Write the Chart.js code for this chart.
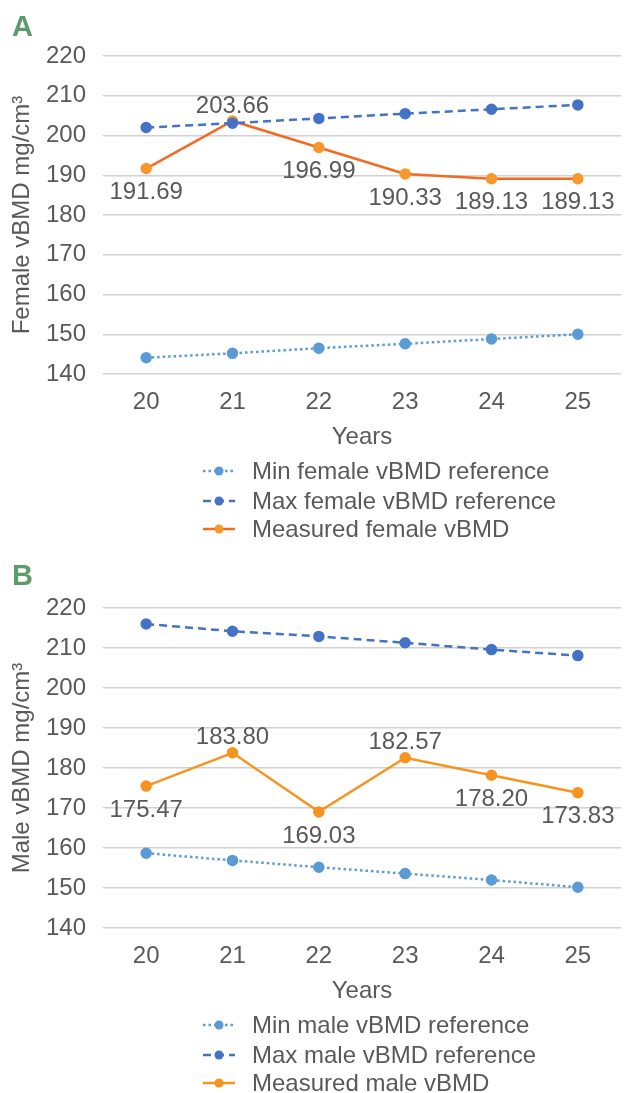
<!DOCTYPE html>
<html>
<head>
<meta charset="utf-8">
<script src="https://cdn.jsdelivr.net/npm/chart.js@4"></script>
<style>
  html, body { margin: 0; padding: 0; background: #fff; }
  #wrapA { position: absolute; left: 0; top: 0; width: 628px; height: 550px; }
  #wrapB { position: absolute; left: 0; top: 550px; width: 628px; height: 543px; }
</style>
</head>
<body>
<div id="wrapA"><canvas id="chartA"></canvas></div>
<div id="wrapB"><canvas id="chartB"></canvas></div>
<script>
// data
const years = ["20", "21", "22", "23", "24", "25"];
const yTicks = [140, 150, 160, 170, 180, 190, 200, 210, 220];

const femaleMin = [144.1, 145.2, 146.5, 147.6, 148.8, 150.0];
const femaleMax = [202.0, 203.1, 204.3, 205.5, 206.6, 207.7];
const femaleMeasured = [191.69, 203.66, 196.99, 190.33, 189.13, 189.13];
const femaleLabelPos = ["below", "above", "below", "below", "below", "below"];

const maleMin = [158.7, 156.9, 155.2, 153.6, 152.0, 150.2];
const maleMax = [216.0, 214.2, 212.9, 211.3, 209.6, 208.1];
const maleMeasured = [175.47, 183.80, 169.03, 182.57, 178.20, 173.83];
const maleLabelPos = ["below", "above", "below", "above", "below", "below"];

const FONT = "'Liberation Sans', Arial, sans-serif";
const FSIZE = 24;
const TEXT = "#595959";
Chart.defaults.font.family = FONT;
Chart.defaults.font.size = FSIZE;
Chart.defaults.color = TEXT;

// value labels on the measured series
const valueLabels = {
  id: "valueLabels",
  afterDatasetsDraw(chart, args, opts) {
    const ctx = chart.ctx;
    const meta = chart.getDatasetMeta(opts.index);
    const vals = chart.data.datasets[opts.index].data;
    ctx.save();
    ctx.font = FSIZE + "px " + FONT;
    ctx.fillStyle = TEXT;
    ctx.textAlign = "center";
    ctx.textBaseline = "middle";
    meta.data.forEach((pt, i) => {
      const dy = opts.pos[i] === "above" ? -15 : 24;
      ctx.fillText(vals[i].toFixed(2), pt.x, pt.y + dy);
    });
    ctx.restore();
  }
};

// stacked legend under the axis + panel letter
const stackLegend = {
  id: "stackLegend",
  afterDraw(chart, args, opts) {
    const ctx = chart.ctx;
    const base = chart.chartArea.bottom;
    const rows = [97, 127, 155];
    ctx.save();
    chart.data.datasets.forEach((ds, i) => {
      const y = base + rows[i];
      ctx.strokeStyle = ds.borderColor;
      ctx.lineWidth = ds.borderWidth;
      ctx.setLineDash(ds.borderDash || []);
      ctx.beginPath();
      ctx.moveTo(203, y);
      ctx.lineTo(235, y);
      ctx.stroke();
      ctx.setLineDash([]);
      ctx.fillStyle = ds.pointBackgroundColor;
      ctx.beginPath();
      ctx.arc(219, y, 4.5, 0, Math.PI * 2);
      ctx.fill();
      ctx.fillStyle = TEXT;
      ctx.font = FSIZE + "px " + FONT;
      ctx.textAlign = "left";
      ctx.textBaseline = "middle";
      ctx.fillText(ds.label, 252, y + 1);
    });
    ctx.fillStyle = "#5C9B6B";
    ctx.font = "bold 29px " + FONT;
    ctx.textAlign = "left";
    ctx.textBaseline = "alphabetic";
    ctx.fillText(opts.letter, 12, opts.letterY);
    ctx.restore();
  }
};

function makeChart(id, cfg) {
  return new Chart(document.getElementById(id), {
    type: "line",
    data: {
      labels: years,
      datasets: [
        {
          label: cfg.names[0],
          data: cfg.min,
          borderColor: "#5B9BD5",
          pointBackgroundColor: "#5B9BD5",
          pointBorderColor: "#5B9BD5",
          borderWidth: 2.5,
          borderDash: [2.5, 3],
          pointRadius: 4.5
        },
        {
          label: cfg.names[1],
          data: cfg.max,
          borderColor: "#4472C4",
          pointBackgroundColor: "#4472C4",
          pointBorderColor: "#4472C4",
          borderWidth: 2.5,
          borderDash: [8, 5],
          pointRadius: 4.5
        },
        {
          label: cfg.names[2],
          data: cfg.measured,
          borderColor: cfg.lineColor,
          pointBackgroundColor: cfg.pointColor,
          pointBorderColor: cfg.pointColor,
          borderWidth: 2.5,
          pointRadius: 4.5
        }
      ]
    },
    options: {
      responsive: true,
      maintainAspectRatio: false,
      animation: false,
      layout: { padding: { top: cfg.padTop, bottom: cfg.padBottom, left: 0, right: 2 } },
      plugins: {
        legend: { display: false },
        tooltip: { enabled: false },
        valueLabels: { index: 2, pos: cfg.labelPos },
        stackLegend: { letter: cfg.letter, letterY: cfg.letterY }
      },
      scales: {
        x: {
          offset: true,
          grid: { display: false },
          border: { display: false },
          ticks: { padding: 6 },
          title: { display: true, text: "Years", padding: { top: 0, bottom: 0 } },
          afterFit(scale) { scale.height = 78; }
        },
        y: {
          min: yTicks[0],
          max: yTicks[yTicks.length - 1],
          afterBuildTicks(scale) { scale.ticks = yTicks.map(v => ({ value: v })); },
          grid: { color: "#D0D0D0", lineWidth: 1.5, drawTicks: false },
          border: { display: false },
          ticks: { padding: 17 },
          title: { display: true, text: cfg.yTitle, padding: { top: 8, bottom: 0 } },
          afterFit(scale) { scale.width = 103; }
        }
      }
    },
    plugins: [valueLabels, stackLegend]
  });
}

makeChart("chartA", {
  names: ["Min female vBMD reference", "Max female vBMD reference", "Measured female vBMD"],
  min: femaleMin,
  max: femaleMax,
  measured: femaleMeasured,
  labelPos: femaleLabelPos,
  lineColor: "#F26B21",
  pointColor: "#F7982C",
  yTitle: "Female vBMD mg/cm³",
  letter: "A",
  letterY: 36,
  padTop: 56,
  padBottom: 98
});

makeChart("chartB", {
  names: ["Min male vBMD reference", "Max male vBMD reference", "Measured male vBMD"],
  min: maleMin,
  max: maleMax,
  measured: maleMeasured,
  labelPos: maleLabelPos,
  lineColor: "#F7931E",
  pointColor: "#F7931E",
  yTitle: "Male vBMD mg/cm³",
  letter: "B",
  letterY: 35,
  padTop: 58,
  padBottom: 87
});
</script>
</body>
</html>
